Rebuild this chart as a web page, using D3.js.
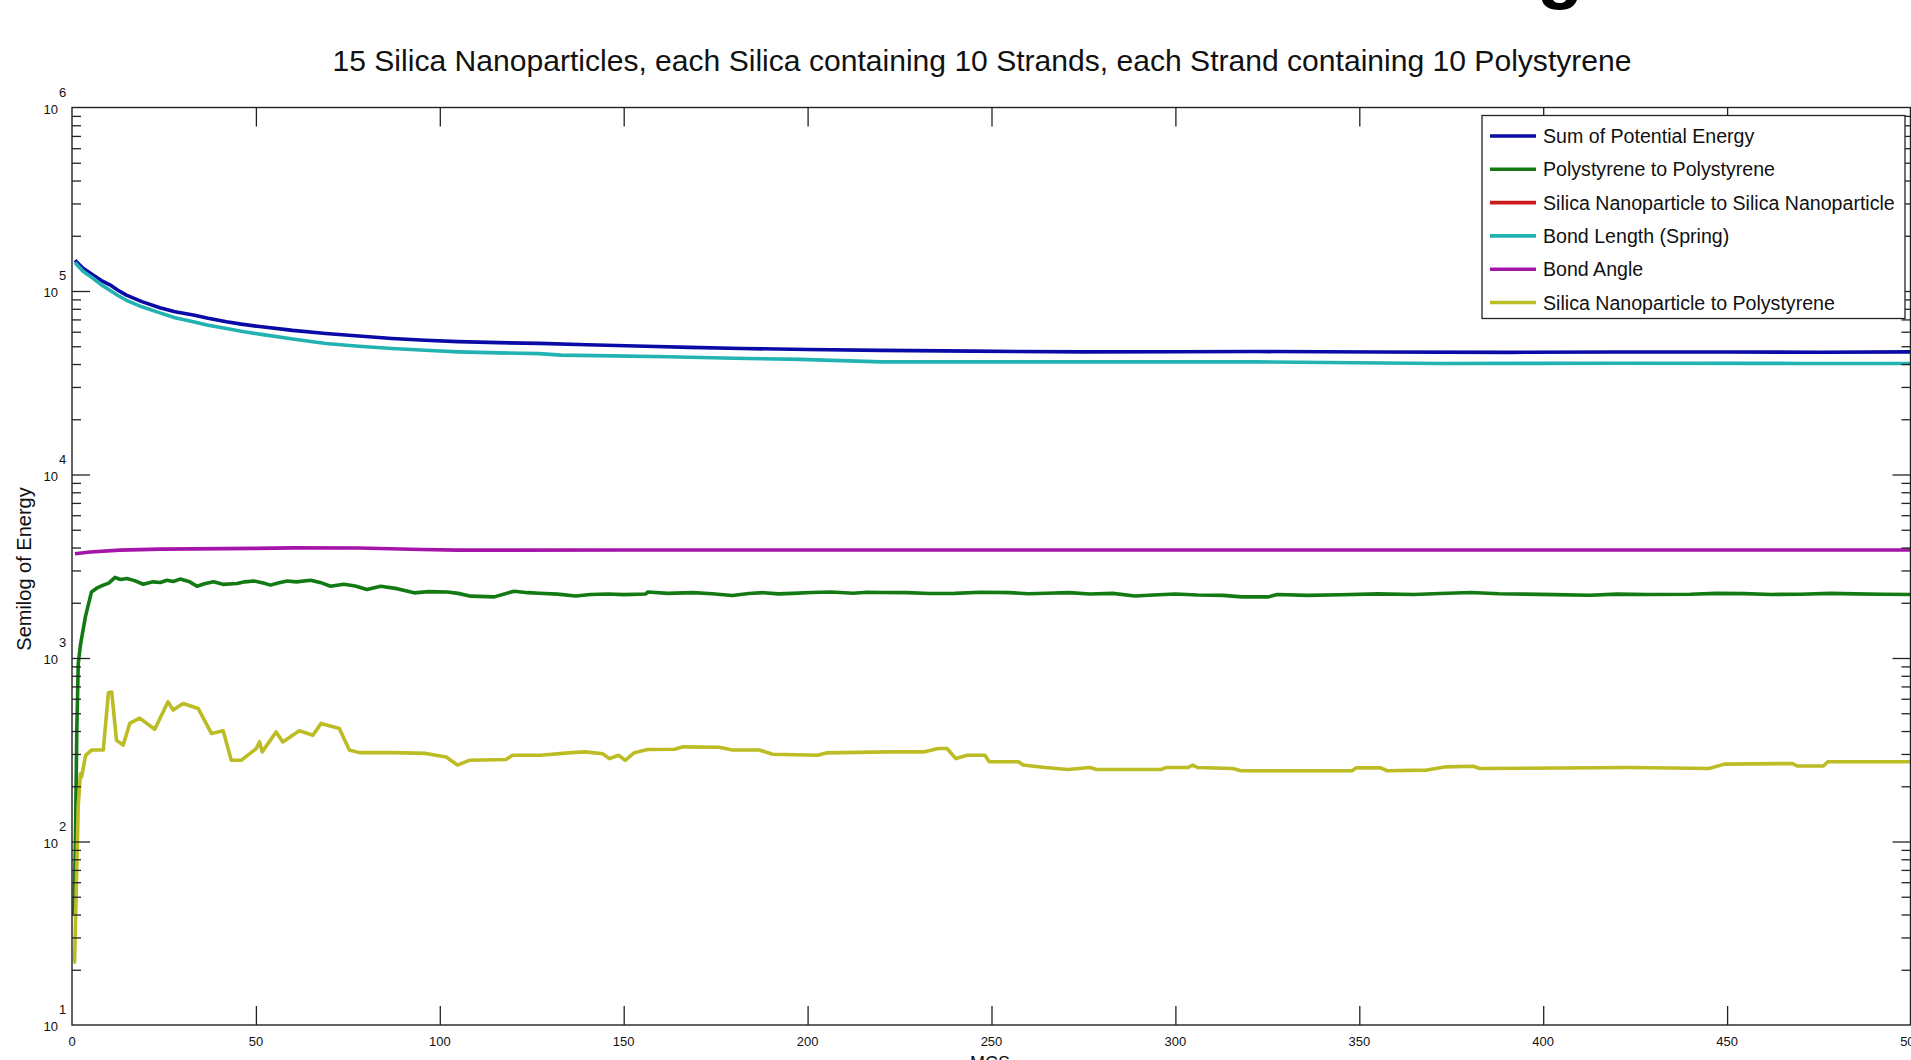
<!DOCTYPE html>
<html>
<head>
<meta charset="utf-8">
<script src="https://cdn.jsdelivr.net/npm/d3@7"></script>
<style>
  html, body { margin: 0; padding: 0; background: #fff; }
  svg { display: block; }
  text { font-family: "Liberation Sans", Arial, Helvetica, sans-serif; fill: #111; }
</style>
</head>
<body>
<svg id="chart" width="1911" height="1060"></svg>
<script>
// ---------------- DATA ----------------
const titleText = "15 Silica Nanoparticles, each Silica containing 10 Strands, each Strand containing 10 Polystyrene";
const xLabelText = "MCS";
const yLabelText = "Semilog of Energy";
const xTicks = [0, 50, 100, 150, 200, 250, 300, 350, 400, 450, 500];
const yDecades = [10, 100, 1000, 10000, 100000, 1000000];
const yDecadeExponents = ["1", "2", "3", "4", "5", "6"];

const seriesNames = [
  "Sum of Potential Energy",
  "Polystyrene to Polystyrene",
  "Silica Nanoparticle to Silica Nanoparticle",
  "Bond Length (Spring)",
  "Bond Angle",
  "Silica Nanoparticle to Polystyrene"
];
const seriesColors = ["#0a0aa6", "#137a13", "#cc1a1a", "#22b2b2", "#a414a8", "#bcbc24"];

// Sum of Potential Energy
const sumMcs    = [0.8, 3, 5.8, 8, 10.3, 12.5, 14.8, 19, 23.9, 28, 33, 37, 42, 46, 51, 60, 69, 78, 87, 96, 105, 116, 127, 140, 156, 168, 182, 200, 220, 245, 275, 300, 322, 355, 391, 420, 450, 475, 500];
const sumEnergy = [147000, 133000, 122000, 114000, 108000, 101000, 95000, 87500, 81000, 77000, 74000, 71000, 68000, 66000, 64000, 61000, 58700, 56800, 55100, 53900, 53000, 52300, 51800, 50900, 50000, 49300, 48600, 48000, 47500, 47000, 46600, 46700, 46800, 46500, 46300, 46500, 46500, 46400, 46600];

// Polystyrene to Polystyrene
const ppMcs    = [0.5, 0.9, 1.3, 1.7, 2.3, 2.6, 3.7, 5.3, 7, 8.5, 10, 11.7, 13.2, 14.9, 17, 19.4, 22, 24, 25.8, 27.5, 29.4, 32, 34, 36, 38.5, 41, 44.9, 47, 49.4, 52, 54, 56, 58.5, 61, 64.9, 68, 70.3, 73.9, 77, 80.2, 83.9, 88.4, 93, 97, 102, 105, 108.4, 114.8, 120.2, 124, 127, 132, 137, 141, 145.7, 150, 156, 156.6, 162, 168.8, 174, 179.6, 184, 188.1, 192, 196, 201, 206.4, 212.4, 216, 220, 227, 233, 240, 247, 255, 260, 265, 271, 276.8, 283, 289, 294, 300, 306, 313, 318, 325.3, 327.7, 336, 345, 355, 364.8, 372, 380.4, 388, 395, 403, 412.7, 420, 428.3, 440, 447, 454.6, 462, 470, 478, 485, 492, 500];
const ppEnergy = [40, 87, 398, 933, 1175, 1276, 1698, 2291, 2420, 2495, 2560, 2748, 2680, 2710, 2640, 2523, 2600, 2580, 2655, 2610, 2692, 2600, 2460, 2540, 2600, 2520, 2547, 2600, 2630, 2560, 2495, 2560, 2630, 2600, 2655, 2560, 2460, 2523, 2470, 2360, 2460, 2388, 2265, 2300, 2291, 2250, 2173, 2153, 2312, 2270, 2254, 2230, 2178, 2220, 2234, 2215, 2234, 2291, 2250, 2270, 2240, 2193, 2245, 2270, 2235, 2250, 2275, 2291, 2254, 2280, 2275, 2270, 2245, 2250, 2280, 2270, 2240, 2255, 2270, 2234, 2250, 2178, 2205, 2234, 2205, 2193, 2153, 2153, 2218, 2195, 2210, 2235, 2218, 2245, 2275, 2240, 2230, 2215, 2198, 2230, 2218, 2225, 2250, 2244, 2220, 2225, 2250, 2235, 2225, 2218];

// Silica Nanoparticle to Silica Nanoparticle (no visible trace in the picture)
const ssMcs    = [];
const ssEnergy = [];

// Bond Length (Spring)
const blMcs    = [0.8, 3, 5.8, 8, 10.3, 12.5, 14.8, 19, 23.9, 28, 33, 37, 42, 46, 51, 60, 69, 78, 87, 96, 105, 116, 127, 133, 147, 162, 180, 198, 220, 265, 322, 372, 420, 470, 500];
const blEnergy = [143000, 128000, 117000, 108000, 101000, 94500, 89000, 82000, 76000, 71500, 68000, 65000, 62500, 60300, 58200, 54700, 51800, 50000, 48600, 47500, 46600, 46000, 45600, 44700, 44300, 43800, 43000, 42400, 41100, 41100, 41100, 40300, 40400, 40300, 40300];

// Bond Angle
const baMcs    = [0.8, 5, 13, 24, 50, 60, 78, 95, 105, 150, 200, 300, 400, 500];
const baEnergy = [3700, 3785, 3870, 3920, 3955, 3980, 3975, 3900, 3870, 3880, 3880, 3880, 3880, 3880];

// Silica Nanoparticle to Polystyrene
const spMcs    = [0.4, 0.7, 1.0, 1.7, 2.3, 2.6, 3.7, 5.3, 8.5, 9.9, 10.8, 12.1, 13.9, 15.7, 18.4, 22.5, 26.1, 27.5, 30.2, 34.3, 37.9, 41.1, 43.3, 46, 50.1, 51, 51.7, 55.5, 57.3, 61.8, 65.5, 67.7, 72.7, 75.4, 78.1, 87.2, 96.2, 101.7, 104.8, 108, 118, 119.8, 127.3, 135.8, 139.5, 144.3, 146.1, 148.6, 150.4, 152.9, 156.5, 163.8, 166.2, 175.9, 179.6, 186.9, 190.5, 202.7, 205.1, 222.1, 231.8, 235.5, 237.9, 240.3, 243.4, 248.2, 249.4, 257.3, 258.6, 264.6, 270.7, 276.8, 278.6, 296.2, 297.4, 303.5, 304.7, 306, 315.6, 317.8, 348, 349.2, 355.8, 357.6, 368.4, 373.2, 381, 382.8, 423.5, 445.1, 449.3, 467.8, 469, 476.2, 477.4, 500];
const spEnergy = [22, 22, 40, 158, 234, 225, 295, 315, 315, 646, 653, 356, 335, 440, 470, 409, 577, 520, 565, 531, 388, 401, 277, 277, 321, 349, 308, 395, 349, 401, 379, 440, 413, 315, 305, 305, 302, 289, 261, 277, 280, 295, 295, 305, 308, 301, 283, 295, 277, 305, 317, 318, 328, 326, 315, 315, 299, 295, 304, 308, 308, 321, 321, 283, 295, 295, 272, 272, 261, 253, 247, 253, 247, 247, 253, 253, 261, 253, 250, 243, 243, 252, 252, 243, 245, 255, 257, 250, 253, 250, 264, 266, 258, 258, 272, 272];

const seriesMcs = [sumMcs, ppMcs, ssMcs, blMcs, baMcs, spMcs];
const seriesEnergy = [sumEnergy, ppEnergy, ssEnergy, blEnergy, baEnergy, spEnergy];

// ---------------- LAYOUT ----------------
const plotLeft = 72, plotRight = 1911, plotTop = 107.5, plotBottom = 1025;
const svg = d3.select("#chart");

const x = d3.scaleLinear().domain([0, 500]).range([plotLeft, plotRight]);
const y = d3.scaleLog().domain([10, 1e6]).range([plotBottom, plotTop]);

// Partial glyph of a slide heading cut off at the top edge
svg.append("text")
  .attr("x", 1537).attr("y", -6)
  .style("font-size", "76px").style("font-weight", "bold").style("fill", "#000")
  .text("g");

// Title
svg.append("text")
  .attr("x", 982).attr("y", 71)
  .attr("text-anchor", "middle")
  .attr("textLength", 1299).attr("lengthAdjust", "spacingAndGlyphs")
  .style("font-size", "29px")
  .text(titleText);

// Clip
svg.append("defs").append("clipPath").attr("id", "plotclip")
  .append("rect").attr("x", plotLeft).attr("y", plotTop)
  .attr("width", plotRight - plotLeft).attr("height", plotBottom - plotTop);

// Lines
const line = d3.line()
  .x(d => x(d[0]))
  .y(d => y(d[1]));

const linesG = svg.append("g").attr("clip-path", "url(#plotclip)");
seriesNames.forEach((name, i) => {
  const pts = seriesMcs[i].map((m, j) => [m, seriesEnergy[i][j]]);
  if (!pts.length) return;
  linesG.append("path")
    .datum(pts)
    .attr("d", line)
    .attr("fill", "none")
    .attr("stroke", seriesColors[i])
    .attr("stroke-width", 3.6)
    .attr("stroke-linejoin", "round");
});

// Minor tick values for the log axis
const minorTicks = [];
yDecades.slice(0, -1).forEach(d => { for (let k = 2; k <= 9; k++) minorTicks.push(d * k); });
const innerXTicks = xTicks.filter(t => t > 0 && t < 500);

const axisColor = "#222";
function styleAxis(g) {
  g.select(".domain").remove();
  g.selectAll("line").attr("stroke", axisColor).attr("stroke-width", 1.3);
}

// Bottom axis (inward ticks)
svg.append("g").attr("transform", `translate(0,${plotBottom})`)
  .call(d3.axisBottom(x).tickValues(innerXTicks).tickSize(-19).tickSizeOuter(0).tickFormat(""))
  .call(styleAxis);
// Top axis
svg.append("g").attr("transform", `translate(0,${plotTop})`)
  .call(d3.axisTop(x).tickValues(innerXTicks).tickSize(-19).tickSizeOuter(0).tickFormat(""))
  .call(styleAxis);
// Left axis major + minor
svg.append("g").attr("transform", `translate(${plotLeft},0)`)
  .call(d3.axisLeft(y).tickValues(yDecades.slice(1, -1)).tickSize(-18).tickSizeOuter(0).tickFormat(""))
  .call(styleAxis);
svg.append("g").attr("transform", `translate(${plotLeft},0)`)
  .call(d3.axisLeft(y).tickValues(minorTicks).tickSize(-9).tickSizeOuter(0).tickFormat(""))
  .call(styleAxis);
// Right axis major + minor
svg.append("g").attr("transform", `translate(${plotRight - 0.5},0)`)
  .call(d3.axisRight(y).tickValues(yDecades.slice(1, -1)).tickSize(-18).tickSizeOuter(0).tickFormat(""))
  .call(styleAxis);
svg.append("g").attr("transform", `translate(${plotRight - 0.5},0)`)
  .call(d3.axisRight(y).tickValues(minorTicks).tickSize(-9).tickSizeOuter(0).tickFormat(""))
  .call(styleAxis);

// Frame
svg.append("rect")
  .attr("x", plotLeft).attr("y", plotTop)
  .attr("width", plotRight - plotLeft - 0.5).attr("height", plotBottom - plotTop)
  .attr("fill", "none").attr("stroke", axisColor).attr("stroke-width", 1.4);

// X tick labels
svg.append("g").selectAll("text").data(xTicks).join("text")
  .attr("x", d => x(d)).attr("y", plotBottom + 21)
  .attr("text-anchor", "middle")
  .style("font-size", "13px")
  .text(d => d);

// Y tick labels: 10 with superscript exponent
const yl = svg.append("g");
yDecades.forEach((d, i) => {
  yl.append("text").attr("x", 58).attr("y", y(d) + 6)
    .attr("text-anchor", "end").style("font-size", "13px").text("10");
  yl.append("text").attr("x", 59).attr("y", y(d) - 11)
    .attr("text-anchor", "start").style("font-size", "13px").text(yDecadeExponents[i]);
});

// Axis labels
svg.append("text")
  .attr("transform", `translate(31,569) rotate(-90)`)
  .attr("text-anchor", "middle")
  .style("font-size", "20px")
  .text(yLabelText);
svg.append("text")
  .attr("x", 990).attr("y", 1069)
  .attr("text-anchor", "middle")
  .style("font-size", "18px")
  .text(xLabelText);

// Legend
const lg = svg.append("g");
lg.append("rect")
  .attr("x", 1482).attr("y", 115.5).attr("width", 423).attr("height", 203)
  .attr("fill", "#fff").attr("stroke", axisColor).attr("stroke-width", 1.3);
seriesNames.forEach((name, i) => {
  const cy = 136 + i * 33.3;
  lg.append("line").attr("x1", 1490).attr("x2", 1536).attr("y1", cy).attr("y2", cy)
    .attr("stroke", seriesColors[i]).attr("stroke-width", 3.6);
  lg.append("text").attr("x", 1543).attr("y", cy + 7)
    .style("font-size", "19.6px").text(name);
});
</script>
</body>
</html>
